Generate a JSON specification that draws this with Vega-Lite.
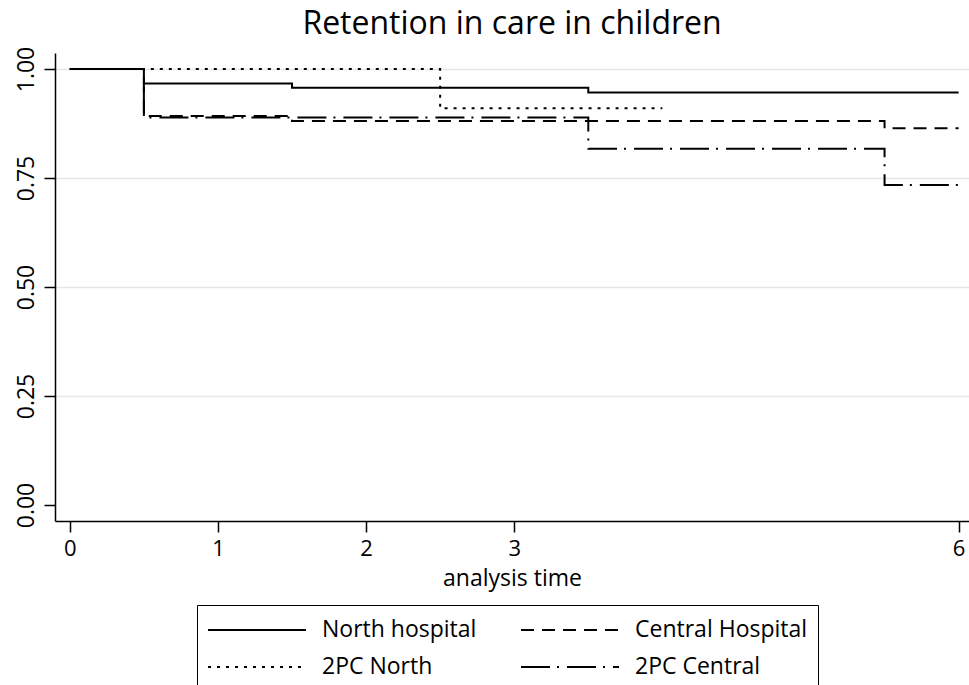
{
  "$schema": "https://vega.github.io/schema/vega-lite/v6.json",
  "autosize": "none",
  "width": 914,
  "height": 468,
  "padding": {"top": 53, "left": 55, "right": 0, "bottom": 164},
  "background": "white",
  "config": {
    "font": "Open Sans",
    "view": {"stroke": null},
    "axis": {
      "domainColor": "black",
      "domainWidth": 1.5,
      "tickColor": "black",
      "tickWidth": 1.5,
      "tickSize": 11,
      "labelColor": "black",
      "titleColor": "black",
      "labelFont": "Open Sans",
      "titleFont": "Open Sans",
      "labelFontSize": 22,
      "titleFontSize": 23,
      "titleFontWeight": "normal"
    }
  },
  "title": {
    "text": "Retention in care in children",
    "fontSize": 32,
    "fontWeight": "normal",
    "font": "Open Sans",
    "color": "black",
    "anchor": "middle",
    "frame": "group",
    "offset": 5
  },
  "data": {
    "values": [
      {"group": "North hospital", "t": 0, "s": 1.0},
      {"group": "North hospital", "t": 0.5, "s": 0.967},
      {"group": "North hospital", "t": 1.5, "s": 0.957},
      {"group": "North hospital", "t": 3.5, "s": 0.946},
      {"group": "North hospital", "t": 6, "s": 0.946},
      {"group": "Central Hospital", "t": 0, "s": 1.0},
      {"group": "Central Hospital", "t": 0.5, "s": 0.892},
      {"group": "Central Hospital", "t": 1.5, "s": 0.881},
      {"group": "Central Hospital", "t": 5.5, "s": 0.864},
      {"group": "Central Hospital", "t": 6, "s": 0.864},
      {"group": "2PC North", "t": 0, "s": 1.0},
      {"group": "2PC North", "t": 2.5, "s": 0.91},
      {"group": "2PC North", "t": 4, "s": 0.91},
      {"group": "2PC Central", "t": 0, "s": 1.0},
      {"group": "2PC Central", "t": 0.5, "s": 0.889},
      {"group": "2PC Central", "t": 3.5, "s": 0.817},
      {"group": "2PC Central", "t": 5.5, "s": 0.734},
      {"group": "2PC Central", "t": 6, "s": 0.734}
    ]
  },
  "mark": {"type": "line", "interpolate": "step-after", "color": "black", "strokeWidth": 2},
  "encoding": {
    "x": {
      "field": "t",
      "type": "quantitative",
      "scale": {"domain": [-0.1, 6.07], "nice": false, "zero": false},
      "axis": {
        "values": [0, 1, 2, 3, 6],
        "title": "analysis time",
        "grid": false,
        "labelPadding": 6,
        "titlePadding": 8,
        "labelFlush": false
      }
    },
    "y": {
      "field": "s",
      "type": "quantitative",
      "scale": {"domain": [-0.0367, 1.0367], "nice": false, "zero": false},
      "axis": {
        "values": [0, 0.25, 0.5, 0.75, 1],
        "format": ".2f",
        "title": null,
        "labelAngle": -90,
        "labelAlign": "center",
        "labelBaseline": "alphabetic",
        "labelPadding": 11,
        "labelFontSize": 23,
        "labelFlush": false,
        "grid": true,
        "gridColor": {"condition": {"test": "datum.value === 0", "value": "transparent"}, "value": "#e6e6e6"},
        "gridWidth": 1.5
      }
    },
    "strokeDash": {
      "field": "group",
      "type": "nominal",
      "scale": {
        "domain": ["North hospital", "Central Hospital", "2PC North", "2PC Central"],
        "range": [[1, 0], [13, 8], [3, 6], [29, 7, 2, 8]]
      },
      "legend": {
        "title": null,
        "orient": "none",
        "direction": "horizontal",
        "legendX": 142,
        "legendY": 552,
        "columns": 2,
        "symbolType": "stroke",
        "symbolSize": 9604,
        "symbolStrokeColor": "black",
        "symbolStrokeWidth": 2,
        "clipHeight": 30,
        "rowPadding": 7,
        "columnPadding": 43,
        "labelOffset": 15,
        "labelFontSize": 23,
        "labelFont": "Open Sans",
        "labelColor": "black",
        "labelLimit": 400,
        "padding": 10,
        "strokeColor": "black",
        "fillColor": "white",
        "symbolOffset": 0
      }
    }
  }
}
